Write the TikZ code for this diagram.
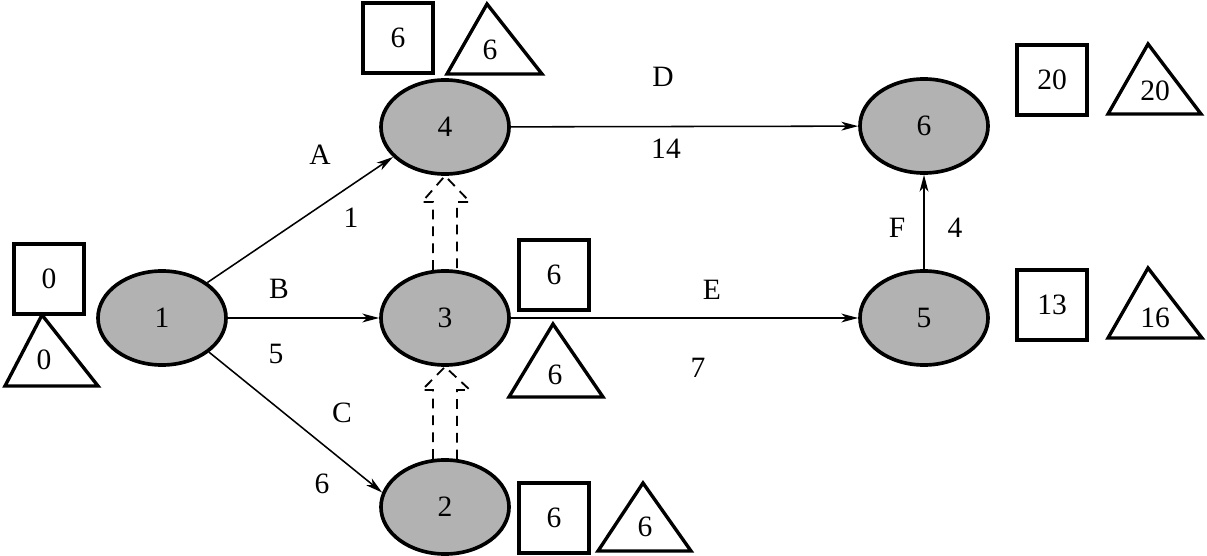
\documentclass[tikz,border=0pt]{standalone}
\usepackage{fontspec}
\setmainfont{Liberation Serif}
\usetikzlibrary{shapes.geometric,arrows.meta,calc}
\begin{document}
\begin{tikzpicture}[x=0.025cm,y=-0.025cm,
  font=\fontsize{21}{25}\selectfont,
  event/.style={ellipse,draw,line width=2.6pt,fill={rgb,255:red,178;green,178;blue,178},minimum width=3.2cm,minimum height=2.35cm,inner sep=0pt},
  timebox/.style={draw,line width=2.4pt,minimum size=1.75cm,inner sep=0pt},
  tri/.style={draw,line width=2.4pt,line join=miter},
  act/.style={line width=1.1pt,-{Stealth[length=4.2mm,width=2.2mm,inset=1.2mm]}},
  dum/.style={line width=1.3pt,dashed,dash pattern=on 7pt off 5pt},
  lbl/.style={inner sep=0pt}]
\useasboundingbox (0,0) rectangle (1207,556);
% events
\node[event] (n1) at (162,318) {1};
\node[event] (n4) at (445,127) {4};
\node[event] (n3) at (445,318) {3};
\node[event] (n2) at (445,507) {2};
\node[event] (n6) at (924,126) {6};
\node[event] (n5) at (924,318) {5};
% activities
\draw[act] (n1.38) -- (n4.210);
\draw[act] (n1) -- (n3);
\draw[act] (n1.-36) -- (n2.167);
\draw[act] (n4) -- (n6);
\draw[act] (n3) -- (n5);
\draw[act] (n5) -- (n6);
% dummy (hollow dashed) arrows
\draw[dum] (n3.104) -- ++(0,-68) -- ++(-11,0) -- (n4.south) -- ($(n3.76)+(13,-68)$) -- ($(n3.76)+(0,-68)$) -- (n3.76);
\draw[dum] (n2.104) -- ++(0,-69) -- ++(-11,0) -- (n3.south) -- ($(n2.76)+(13,-69)$) -- ($(n2.76)+(0,-69)$) -- (n2.76);
% labels
\node[lbl] (lA) at (320,155) {A};
\node[lbl] (l1) at (351,218) {1};
\node[lbl] (lB) at (279,289) {B};
\node[lbl] (l5) at (276,354) {5};
\node[lbl] (lC) at (342,413) {C};
\node[lbl] (l6) at (322,484) {6};
\node[lbl] (lD) at (663,77) {D};
\node[lbl] (l14) at (666,149) {14};
\node[lbl] (lE) at (712,290) {E};
\node[lbl] (l7) at (698,368) {7};
\node[lbl] (lF) at (897,228) {F};
\node[lbl] (l4) at (955,228) {4};
% boxes
\node[timebox] (b1) at (49,279) {0};
\node[timebox] (b4) at (398,38) {6};
\node[timebox] (b3) at (554,275) {6};
\node[timebox] (b2) at (554,518) {6};
\node[timebox] (b6) at (1052,80) {20};
\node[timebox] (b5) at (1052,305) {13};
% triangles
\draw[tri] (42,315) -- (98,386) -- (5,386) -- cycle;
\node[lbl] (t1) at (44,360) {0};
\draw[tri] (487,4) -- (542,74) -- (447,74) -- cycle;
\node[lbl] (t4) at (490,50) {6};
\draw[tri] (553,324) -- (603,397) -- (509,397) -- cycle;
\node[lbl] (t3) at (555,375) {6};
\draw[tri] (643,483) -- (691,551) -- (598,551) -- cycle;
\node[lbl] (t2) at (645,527) {6};
\draw[tri] (1148,44) -- (1201,114) -- (1108,114) -- cycle;
\node[lbl] (t6) at (1155,91) {20};
\draw[tri] (1148,268) -- (1202,338) -- (1108,338) -- cycle;
\node[lbl] (t5) at (1155,318) {16};
\end{tikzpicture}
\end{document}
